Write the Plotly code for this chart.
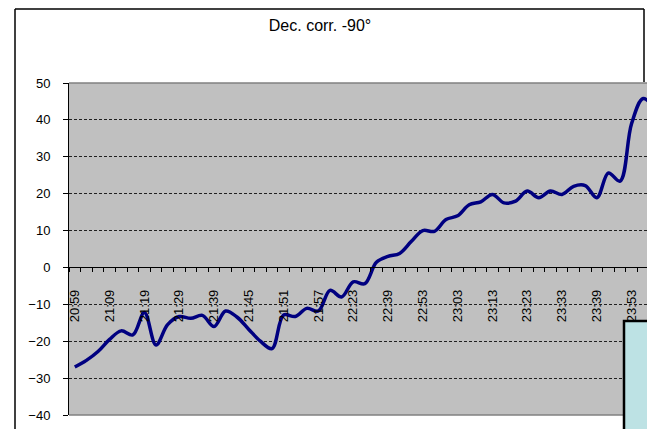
import plotly.graph_objects as go

# Category labels shown on the x axis (every third sample)
tick_labels = ["20:59", "21:09", "21:19", "21:29", "21:39", "21:45", "21:51",
               "21:57", "22:23", "22:39", "22:53", "23:03", "23:13", "23:23",
               "23:33", "23:39", "23:53"]
label_step = 3

# Declination correction values, one per sample
dec_corr = [-27.0, -25.2, -22.8, -19.5, -17.2, -18.3, -12.2, -21.0, -15.5, -13.3,
            -13.8, -13.0, -16.0, -11.8, -13.5, -16.8, -20.0, -22.0, -12.9, -13.3,
            -11.1, -11.8, -6.2, -8.0, -3.9, -4.4, 1.4, 3.0, 3.8, 7.0,
            10.0, 9.8, 13.0, 14.0, 17.0, 17.8, 19.8, 17.5, 18.0, 20.7,
            18.9, 20.7, 19.8, 22.0, 22.2, 18.9, 25.6, 23.4, 39.0, 45.8,
            43.0]

y_min, y_max = -40, 50

W, H = 647, 429
L, R, T, B = 69, 0, 83, 14
plot_w = W - L - R
plot_h = H - T - B
cat_w = 11.6  # pixels per sample


def px_x(x):
    return (x - L) / plot_w


def px_y(y):
    return (H - B - y) / plot_h


xs = list(range(len(dec_corr)))
tickvals = [i * label_step for i in range(len(tick_labels))]

fig = go.Figure()
fig.add_trace(go.Scatter(
    x=xs, y=dec_corr, mode="lines",
    line=dict(color="#000080", width=3.5, shape="spline", smoothing=1.0),
    hoverinfo="skip", showlegend=False,
))

font = "Liberation Sans, Arial, sans-serif"

fig.update_layout(
    width=W, height=H,
    margin=dict(l=L, r=R, t=T, b=B, pad=0),
    paper_bgcolor="white",
    plot_bgcolor="#C0C0C0",
    showlegend=False,
    title=dict(text="Dec. corr. -90°", x=320 / W, xref="container", xanchor="center",
               y=1 - 25 / H, yref="container", yanchor="middle",
               font=dict(family=font, size=16, color="black")),
    xaxis=dict(
        range=[-0.5, plot_w / cat_w - 0.5],
        anchor="free",
        position=(0 - y_min) / (y_max - y_min),
        showline=True, linecolor="black", linewidth=1,
        showgrid=False, zeroline=False,
        tickmode="array", tickvals=tickvals, ticktext=tick_labels,
        ticks="", tickangle=-90,
        ticklabelstandoff=16,
        tickfont=dict(family=font, size=13, color="black"),
        minor=dict(tick0=-0.5, dtick=1, ticks="outside", ticklen=4,
                   tickcolor="black", tickwidth=1, showgrid=False),
    ),
    yaxis=dict(
        range=[y_min, y_max],
        tickmode="linear", tick0=y_min, dtick=10,
        showline=True, linecolor="black", linewidth=1,
        ticks="outside", ticklen=5, tickcolor="black",
        ticklabelstandoff=10,
        showgrid=True, gridcolor="#202020", gridwidth=1, griddash="3px,2px",
        zeroline=False,
        tickfont=dict(family=font, size=13, color="black"),
    ),
)

# Plot-area frame (top and bottom edges)
for yy in (0, 1):
    fig.add_shape(type="line", xref="paper", yref="paper",
                  x0=0, x1=1.05, y0=yy, y1=yy,
                  line=dict(color="#808080", width=1.5), layer="above")

# Outer chart frame: left, top and the visible part of the right edge
frame = dict(color="black", width=1.5)
fig.add_shape(type="line", xref="paper", yref="paper",
              x0=px_x(15), x1=px_x(15), y0=px_y(H + 20), y1=px_y(9),
              line=frame, layer="above")
fig.add_shape(type="line", xref="paper", yref="paper",
              x0=px_x(15), x1=px_x(644), y0=px_y(9), y1=px_y(9),
              line=frame, layer="above")
fig.add_shape(type="line", xref="paper", yref="paper",
              x0=px_x(644), x1=px_x(644), y0=px_y(82), y1=px_y(9),
              line=frame, layer="above")

# Legend panel at lower right
fig.add_shape(type="rect", xref="paper", yref="paper",
              x0=px_x(624), x1=px_x(W + 20), y0=px_y(H + 20), y1=px_y(321),
              line=dict(color="black", width=2.5), fillcolor="#BDE2E4",
              layer="above")

fig.write_html("out.html")
